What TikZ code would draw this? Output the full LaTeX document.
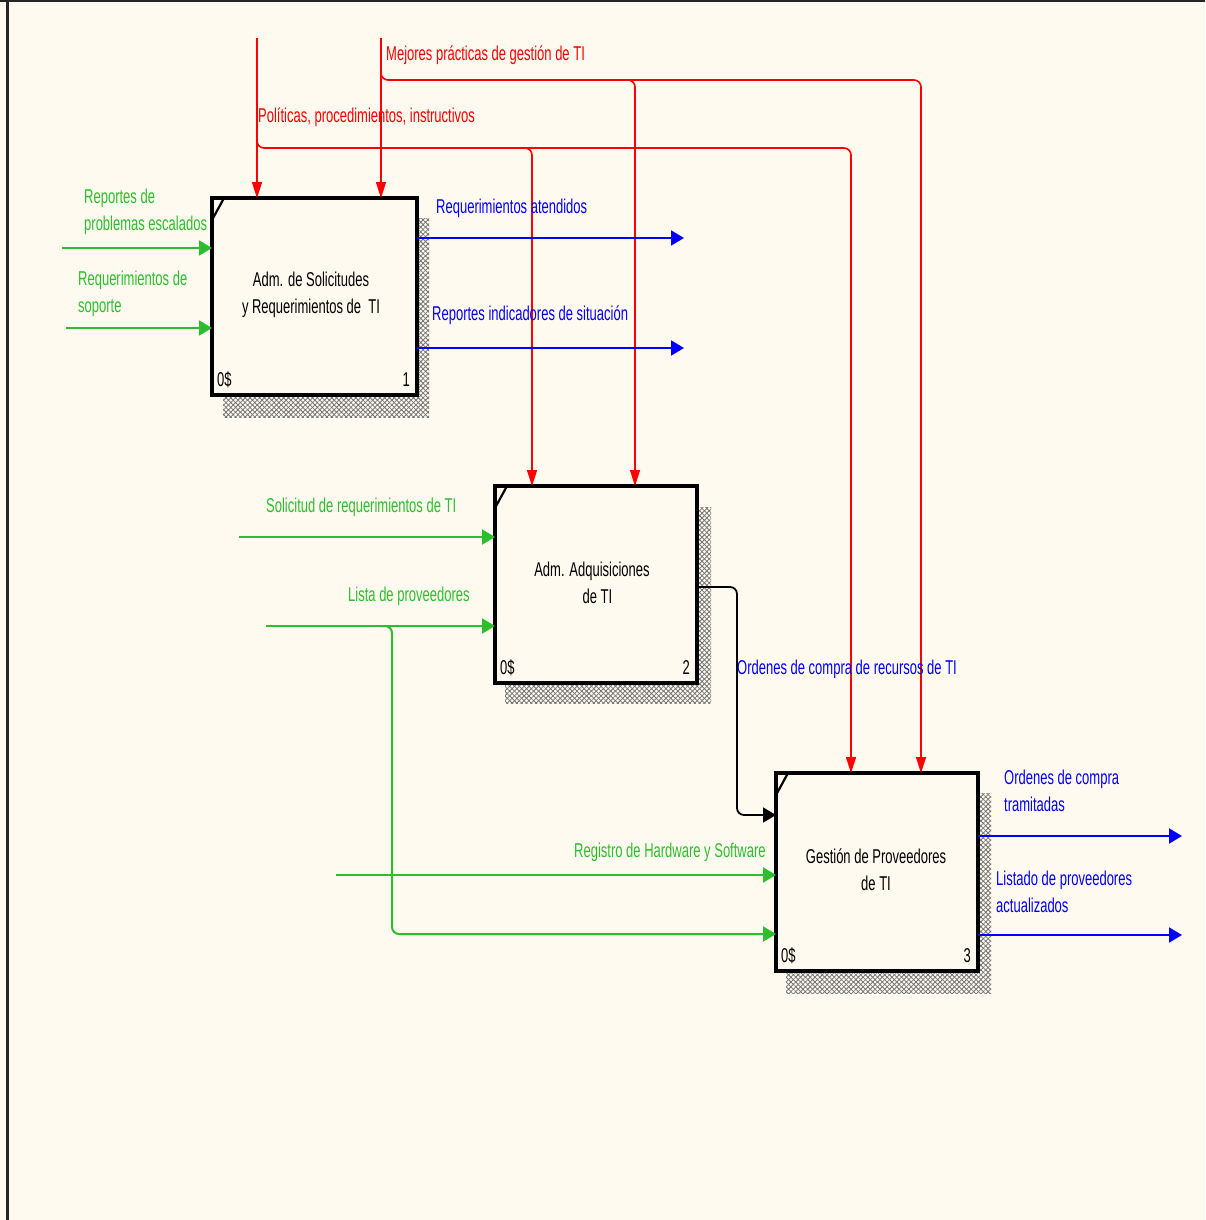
\documentclass[tikz,border=0pt]{standalone}
\usepackage{fontspec}
\setmainfont{Liberation Sans}[FakeStretch=0.65]
\usetikzlibrary{arrows.meta,calc,patterns.meta}

\definecolor{paper}{RGB}{255,250,240}
\definecolor{ctrlred}{RGB}{255,0,0}
\definecolor{outblue}{RGB}{0,0,255}
\definecolor{ingreen}{RGB}{45,190,45}

\tikzset{
  every node/.style={font=\fontsize{20}{27}\selectfont, inner sep=0pt},
  activity/.style={draw=black, line width=3.5pt, fill=paper, inner sep=0pt, outer sep=0pt},
  hatch/.style={pattern={Lines[angle=45,distance=3.4pt,line width=0.8pt]}, pattern color=black!55},
  hatchb/.style={pattern={Lines[angle=-45,distance=3.4pt,line width=0.8pt]}, pattern color=black!55},
  ctrlarrow/.style={draw=ctrlred, line width=1.6pt, -{Triangle[length=16pt,width=10pt]}},
  outarrow/.style={draw=outblue, line width=2pt, -{Triangle[length=13pt,width=15pt]}},
  inarrow/.style={draw=ingreen, line width=2pt, -{Triangle[length=13pt,width=15pt]}},
  linkarrow/.style={draw=black, line width=1.8pt, -{Triangle[length=13pt,width=15pt]}},
  redtext/.style={text=ctrlred, anchor=west},
  bluetext/.style={text=outblue, anchor=west, align=left},
  greentext/.style={text=ingreen, anchor=west, align=left},
  corner/.style={draw=black, line width=2.2pt},
}

\begin{document}
\begin{tikzpicture}[x=1pt, y=-1pt]
  \useasboundingbox (0,0) rectangle (1205,1220);
  \fill[paper] (0,0) rectangle (1205,1220);
  % sheet frame
  \fill[black!85] (0,0) rectangle (1205,2.5);
  \fill[black!85] (6,0) rectangle (8.5,1220);

  % drop shadows of the activity boxes
  \foreach \xa/\ya/\xb/\yb in {223/218/429/417, 505/507/711/703, 786/793/991/993}{
    \path[hatch] (\xa,\ya) rectangle (\xb,\yb);
    \path[hatchb] (\xa,\ya) rectangle (\xb,\yb);
  }

  % activity boxes
  \node[activity, minimum width=205pt, minimum height=197pt] (b1) at (314.5,296.5) {};
  \node[activity, minimum width=202pt, minimum height=197pt] (b2) at (596,584.5) {};
  \node[activity, minimum width=202pt, minimum height=198pt] (b3) at (877,872) {};

  \node[align=center] (t1) at (311,295) {Adm. de Solicitudes\\y Requerimientos de\ \ TI};
  \node[align=center] (t2) at (592,583) {Adm. Adquisiciones\\\ \ \ de TI};
  \node[align=center] (t3) at (876,870) {Gestión de Proveedores\\de TI};

  \foreach \b/\n in {b1/1, b2/2, b3/3}{
    \draw[corner] ($(\b.north west)+(0,22)$) -- ($(\b.north west)+(12,0)$);
    \node[anchor=base west] (\b-id) at ($(\b.south west)+(5,-9)$) {0\$};
    \node[anchor=base east] (\b-no) at ($(\b.south east)+(-7,-9)$) {\n};
  }

  % ---- controls (red) ----
  \coordinate (cA) at (257,38);
  \coordinate (kA) at (257,136);
  \coordinate (sA2) at (518,148);
  \coordinate (hA2) at (532,148);
  \coordinate (hA3) at (851,148);
  \draw[ctrlarrow] (cA) -- (b1.north -| cA);
  \draw[ctrlarrow, rounded corners=7pt] (kA) |- (hA3) -- (b3.north -| hA3);
  \draw[ctrlarrow, rounded corners=7pt] (sA2) -| (b2.north -| hA2);
  \node[redtext] (lA) at (258,117) {Políticas, procedimientos, instructivos};

  \coordinate (cB) at (381,38);
  \coordinate (kB) at (381,68);
  \coordinate (sB2) at (621,80);
  \coordinate (hB2) at (635,80);
  \coordinate (hB3) at (921,80);
  \draw[ctrlarrow] (cB) -- (b1.north -| cB);
  \draw[ctrlarrow, rounded corners=7pt] (kB) |- (hB3) -- (b3.north -| hB3);
  \draw[ctrlarrow, rounded corners=7pt] (sB2) -| (b2.north -| hB2);
  \node[redtext] (lB) at (386,55) {Mejores prácticas de gestión de TI};

  % ---- outputs (blue) ----
  \coordinate (o11) at (684,238);
  \coordinate (o12) at (684,348);
  \draw[outarrow] (b1.east |- o11) -- (o11);
  \draw[outarrow] (b1.east |- o12) -- (o12);
  \node[bluetext] (l11) at (436,208) {Requerimientos atendidos};
  \node[bluetext] (l12) at (432,315) {Reportes indicadores de situación};

  \coordinate (o31) at (1182,836);
  \coordinate (o32) at (1182,935);
  \draw[outarrow] (b3.east |- o31) -- (o31);
  \draw[outarrow] (b3.east |- o32) -- (o32);
  \node[bluetext] (l31) at (1004,790.5) {Ordenes de compra\\tramitadas};
  \node[bluetext] (l32) at (996,892) {Listado de proveedores\\actualizados};

  % ---- link from activity 2 to activity 3 ----
  \coordinate (q1) at (737,587);
  \coordinate (q2) at (737,815);
  \draw[linkarrow, rounded corners=7pt] (b2.east |- q1) -- (q1) -- (q2) -- (b3.west |- q2);
  \node[bluetext] (lq) at (737,669) {Ordenes de compra de recursos de TI};

  % ---- inputs (green) ----
  \coordinate (i11) at (62,248);
  \coordinate (i12) at (66,328);
  \draw[inarrow] (i11) -- (b1.west |- i11);
  \draw[inarrow] (i12) -- (b1.west |- i12);
  \node[greentext] (l11i) at (84,212) {Reportes de\\problemas escalados};
  \node[greentext] (l12i) at (78,294) {Requerimientos de\\soporte};

  \coordinate (i21) at (239,537);
  \coordinate (i22) at (266,626);
  \draw[inarrow] (i21) -- (b2.west |- i21);
  \draw[inarrow] (i22) -- (b2.west |- i22);
  \node[greentext] (l21i) at (266,507) {Solicitud de requerimientos de TI};
  \node[greentext] (l22i) at (348,596) {Lista de proveedores};

  \coordinate (i31) at (336,875);
  \coordinate (gk) at (380,626);
  \coordinate (gv) at (392,934);
  \draw[inarrow] (i31) -- (b3.west |- i31);
  \draw[inarrow, rounded corners=7pt] (gk) -| (gv) -- (b3.west |- gv);
  \node[greentext] (l31i) at (574,852) {Registro de Hardware y Software};
\end{tikzpicture}
\end{document}
